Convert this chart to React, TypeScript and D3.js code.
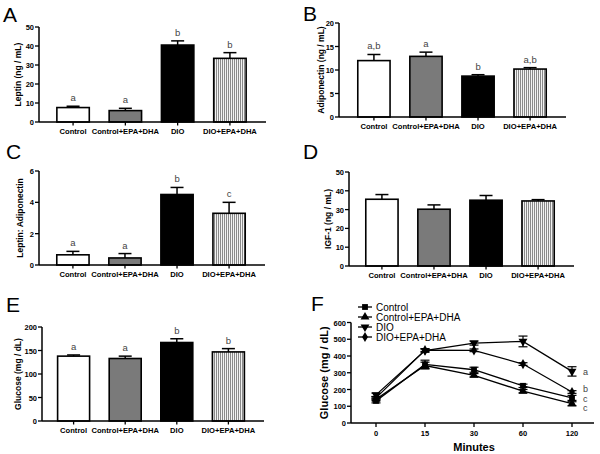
import { useEffect, useRef } from 'react'
import * as d3 from 'd3'

const groups = ['Control', 'Control+EPA+DHA', 'DIO', 'DIO+EPA+DHA']

const leptin = [7.6, 6.0, 40.5, 33.5]
const leptinErr = [0.7, 1.2, 2.2, 3.0]
const leptinSig = ['a', 'a', 'b', 'b']

const adiponectin = [12.0, 12.9, 8.7, 10.2]
const adiponectinErr = [1.3, 0.9, 0.3, 0.3]
const adiponectinSig = ['a,b', 'a', 'b', 'a,b']

const ratio = [0.65, 0.45, 4.5, 3.3]
const ratioErr = [0.22, 0.28, 0.45, 0.7]
const ratioSig = ['a', 'a', 'b', 'c']

const igf = [35.5, 30.2, 35.0, 34.6]
const igfErr = [2.5, 2.3, 2.5, 0.7]
const igfSig = ['', '', '', '']

const glucose = [138, 133, 167, 147]
const glucoseErr = [2.5, 5, 8, 7]
const glucoseSig = ['a', 'a', 'b', 'b']

const minutes = ['0', '15', '30', '60', '120']
const gttControl = [132, 350, 318, 222, 150]
const gttControlErr = [12, 25, 15, 10, 15]
const gttControlEpa = [142, 343, 285, 190, 115]
const gttControlEpaErr = [8, 20, 10, 10, 12]
const gttDio = [168, 432, 477, 487, 308]
const gttDioErr = [10, 10, 12, 32, 28]
const gttDioEpa = [150, 435, 434, 352, 185]
const gttDioEpaErr = [8, 8, 8, 8, 8]
const gttSig = ['c', 'c', 'a', 'b']

const FONT = '"Liberation Sans", Arial, sans-serif'

export default function App() {
  const svgRef = useRef<SVGSVGElement>(null)

  useEffect(() => {
    const svg = d3.select(svgRef.current)
    svg.selectAll('*').remove()

    const defs = svg.append('defs')
    const pat = defs
      .append('pattern')
      .attr('id', 'vstripe')
      .attr('patternUnits', 'userSpaceOnUse')
      .attr('width', 2)
      .attr('height', 4)
    pat.append('rect').attr('width', 2).attr('height', 4).attr('fill', '#f2f2f2')
    pat.append('rect').attr('width', 1).attr('height', 4).attr('fill', '#8a8a8a')

    const fills = ['#ffffff', '#7a7a7a', '#000000', 'url(#vstripe)']

    // panel letters
    const letters = [
      ['A', 3, 22],
      ['B', 303, 21],
      ['C', 6, 159],
      ['D', 303, 159],
      ['E', 6, 312],
      ['F', 311, 311],
    ]
    svg
      .selectAll('.plabel')
      .data(letters)
      .join('text')
      .attr('x', (d) => d[1])
      .attr('y', (d) => d[2])
      .attr('font-family', FONT)
      .attr('font-size', 21)
      .text((d) => d[0])

    const barPanel = (opt) => {
      const { values, errs, sig, ax, band, domain, yRange, ticks, label, labelX } = opt
      const g = svg.append('g')
      const x = d3.scaleBand().domain(groups).range(band).padding(0.38)
      const y = d3.scaleLinear().domain(domain).range(yRange)
      const y0 = y(0)

      g.selectAll('rect.bar')
        .data(values)
        .join('rect')
        .attr('x', (d, i) => x(groups[i]))
        .attr('y', (d) => y(d))
        .attr('width', x.bandwidth())
        .attr('height', (d) => y0 - y(d))
        .attr('fill', (d, i) => fills[i])
        .attr('stroke', '#000')
        .attr('stroke-width', 1.6)

      // error bars (upper only)
      values.forEach((v, i) => {
        const cx = x(groups[i]) + x.bandwidth() / 2
        const top = y(v + errs[i])
        g.append('line').attr('x1', cx).attr('x2', cx).attr('y1', y(v)).attr('y2', top)
          .attr('stroke', '#000').attr('stroke-width', 1.5)
        g.append('line').attr('x1', cx - 6.5).attr('x2', cx + 6.5).attr('y1', top).attr('y2', top)
          .attr('stroke', '#000').attr('stroke-width', 1.5)
        if (sig[i]) {
          g.append('text').attr('x', cx).attr('y', top - 5)
            .attr('text-anchor', 'middle').attr('font-family', FONT).attr('font-size', 9.5)
            .attr('fill', '#444').text(sig[i])
        }
      })

      // y axis
      g.append('line').attr('x1', ax).attr('x2', ax).attr('y1', y(domain[1])).attr('y2', y0)
        .attr('stroke', '#000').attr('stroke-width', 1.5)
      g.selectAll('line.yt').data(ticks).join('line')
        .attr('x1', ax - 4).attr('x2', ax).attr('y1', (d) => y(d)).attr('y2', (d) => y(d))
        .attr('stroke', '#000').attr('stroke-width', 1.3)
      g.selectAll('text.yt').data(ticks).join('text')
        .attr('x', ax - 5).attr('y', (d) => y(d) + 3)
        .attr('text-anchor', 'end').attr('font-family', FONT).attr('font-weight', 'bold')
        .attr('font-size', 7.5).text((d) => d)

      // x axis
      g.append('line').attr('x1', ax).attr('x2', band[1]).attr('y1', y0).attr('y2', y0)
        .attr('stroke', '#000').attr('stroke-width', 1.5)
      groups.forEach((c) => {
        const cx = x(c) + x.bandwidth() / 2
        g.append('line').attr('x1', cx).attr('x2', cx).attr('y1', y0).attr('y2', y0 + 3.5)
          .attr('stroke', '#000').attr('stroke-width', 1.3)
        g.append('text').attr('x', cx).attr('y', y0 + 12)
          .attr('text-anchor', 'middle').attr('font-family', FONT).attr('font-weight', 'bold')
          .attr('font-size', 7.6).text(c)
      })

      const mid = (yRange[0] + yRange[1]) / 2
      g.append('text')
        .attr('transform', `translate(${labelX},${mid}) rotate(-90)`)
        .attr('text-anchor', 'middle').attr('font-family', FONT).attr('font-weight', 'bold')
        .attr('font-size', 8.5).text(label)
    }

    barPanel({ values: leptin, errs: leptinErr, sig: leptinSig, ax: 39, band: [37, 266],
      domain: [0, 50], yRange: [122, 27], ticks: [0, 10, 20, 30, 40, 50], label: 'Leptin (ng / mL)', labelX: 21 })
    barPanel({ values: adiponectin, errs: adiponectinErr, sig: adiponectinSig, ax: 339, band: [338, 566],
      domain: [0, 20], yRange: [117, 23], ticks: [0, 5, 10, 15, 20], label: 'Adiponectin (ng / mL)', labelX: 324 })
    barPanel({ values: ratio, errs: ratioErr, sig: ratioSig, ax: 39, band: [37, 265],
      domain: [0, 6], yRange: [265, 171], ticks: [0, 2, 4, 6], label: 'Leptin: Adiponectin', labelX: 23 })
    barPanel({ values: igf, errs: igfErr, sig: igfSig, ax: 349, band: [346, 574],
      domain: [0, 50], yRange: [266, 172], ticks: [0, 10, 20, 30, 40, 50], label: 'IGF-1 (ng / mL)', labelX: 331 })
    barPanel({ values: glucose, errs: glucoseErr, sig: glucoseSig, ax: 42, band: [38, 264],
      domain: [0, 200], yRange: [421, 327], ticks: [0, 50, 100, 150, 200], label: 'Glucose (mg / dL)', labelX: 21 })

    // panel F: glucose tolerance
    const g = svg.append('g')
    const fx = d3.scalePoint().domain(minutes).range([376, 572])
    const fy = d3.scaleLinear().domain([0, 600]).range([423, 322.5])
    const series = [
      { name: 'Control', v: gttControl, e: gttControlErr, shape: d3.symbolSquare, size: 34, rot: 0 },
      { name: 'Control+EPA+DHA', v: gttControlEpa, e: gttControlEpaErr, shape: d3.symbolTriangle, size: 34, rot: 0 },
      { name: 'DIO', v: gttDio, e: gttDioErr, shape: d3.symbolTriangle, size: 34, rot: 180 },
      { name: 'DIO+EPA+DHA', v: gttDioEpa, e: gttDioEpaErr, shape: d3.symbolDiamond, size: 30, rot: 0 },
    ]
    const line = d3.line<number>().x((d, i) => fx(minutes[i])).y((d) => fy(d))
    series.forEach((s) => {
      g.append('path').attr('d', line(s.v)).attr('fill', 'none').attr('stroke', '#000').attr('stroke-width', 1.3)
      s.v.forEach((v, i) => {
        const cx = fx(minutes[i])
        const lo = fy(v - s.e[i])
        const hi = fy(v + s.e[i])
        g.append('line').attr('x1', cx).attr('x2', cx).attr('y1', lo).attr('y2', hi).attr('stroke', '#000').attr('stroke-width', 1.2)
        g.append('line').attr('x1', cx - 4.5).attr('x2', cx + 4.5).attr('y1', lo).attr('y2', lo).attr('stroke', '#000').attr('stroke-width', 1.2)
        g.append('line').attr('x1', cx - 4.5).attr('x2', cx + 4.5).attr('y1', hi).attr('y2', hi).attr('stroke', '#000').attr('stroke-width', 1.2)
        g.append('path').attr('d', d3.symbol(s.shape, s.size)())
          .attr('transform', `translate(${cx},${fy(v)}) rotate(${s.rot})`).attr('fill', '#000')
      })
    })

    // significance letters at 120 min (spread so they don't collide)
    const sigY = [401.5, 410.5, 374.5, 392]
    series.forEach((s, i) => {
      g.append('text').attr('x', 583).attr('y', sigY[i])
        .attr('font-family', FONT).attr('font-size', 9).attr('fill', '#444').text(gttSig[i])
    })

    // axes F
    const fax = 351
    const fticks = [0, 100, 200, 300, 400, 500, 600]
    g.append('line').attr('x1', fax).attr('x2', fax).attr('y1', fy(600)).attr('y2', fy(0)).attr('stroke', '#000').attr('stroke-width', 1.5)
    g.selectAll('line.yt').data(fticks).join('line')
      .attr('x1', fax - 4).attr('x2', fax).attr('y1', (d) => fy(d)).attr('y2', (d) => fy(d))
      .attr('stroke', '#000').attr('stroke-width', 1.3)
    g.selectAll('text.yt').data(fticks).join('text')
      .attr('x', fax - 5).attr('y', (d) => fy(d) + 3)
      .attr('text-anchor', 'end').attr('font-family', FONT).attr('font-weight', 'bold')
      .attr('font-size', 7.5).text((d) => d)
    g.append('line').attr('x1', fax).attr('x2', 594).attr('y1', fy(0)).attr('y2', fy(0)).attr('stroke', '#000').attr('stroke-width', 1.5)
    minutes.forEach((m) => {
      const cx = fx(m)
      g.append('line').attr('x1', cx).attr('x2', cx).attr('y1', fy(0)).attr('y2', fy(0) + 4).attr('stroke', '#000').attr('stroke-width', 1.3)
      g.append('text').attr('x', cx).attr('y', fy(0) + 13).attr('text-anchor', 'middle')
        .attr('font-family', FONT).attr('font-weight', 'bold').attr('font-size', 7.5).text(m)
    })
    g.append('text').attr('x', fx('30')).attr('y', 451).attr('text-anchor', 'middle')
      .attr('font-family', FONT).attr('font-weight', 'bold').attr('font-size', 11).text('Minutes')
    g.append('text')
      .attr('transform', `translate(328,${(423 + 322.5) / 2}) rotate(-90)`)
      .attr('text-anchor', 'middle').attr('font-family', FONT).attr('font-weight', 'bold')
      .attr('font-size', 11).text('Glucose (mg / dL)')

    // legend F
    series.forEach((s, i) => {
      const ly = 307 + i * 10
      g.append('line').attr('x1', 358).attr('x2', 372).attr('y1', ly).attr('y2', ly).attr('stroke', '#000').attr('stroke-width', 1.3)
      g.append('path').attr('d', d3.symbol(s.shape, s.size)())
        .attr('transform', `translate(365,${ly}) rotate(${s.rot})`).attr('fill', '#000')
      g.append('text').attr('x', 376).attr('y', ly + 3.5).attr('font-family', FONT)
        .attr('font-size', 10).text(s.name)
    })
  }, [])

  return (
    <svg
      ref={svgRef}
      width={600}
      height={454}
      style={{ position: 'absolute', left: 0, top: 0, background: '#fff' }}
    />
  )
}
